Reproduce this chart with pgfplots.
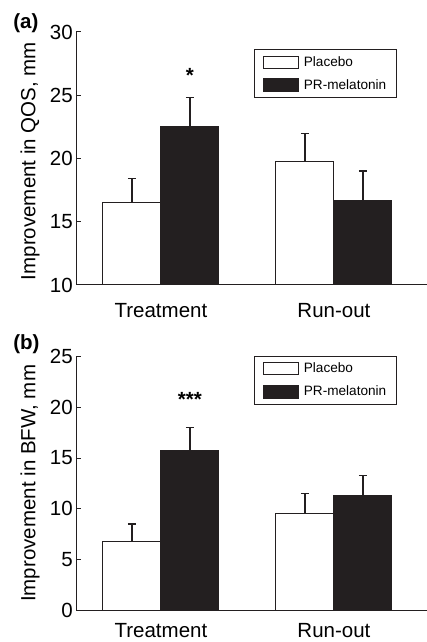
\documentclass[border=0pt]{standalone}
\usepackage{pgfplots}
\pgfplotsset{compat=1.18}
\usepackage{fontspec}
\setmainfont{Liberation Sans}
\definecolor{barblack}{RGB}{35,31,32}
\definecolor{edge}{RGB}{35,31,32}

\pgfplotsset{
  panel/.style={
    scale only axis,
    clip mode=individual,
    width=351pt,
    height=253pt,
    axis x line=bottom,
    axis y line=left,
    axis line style={-, line width=1pt, edge},
    xmin=-0.491, xmax=1.538,
    xtick={0,1},
    xticklabels={Treatment, Run-out},
    x tick style={draw=none},
    xticklabel style={font=\fontsize{20.5}{24}\selectfont, yshift=-10pt},
    y tick style={line width=1pt, edge},
    tick align=inside,
    major tick length=5pt,
    yticklabel style={font=\fontsize{20.5}{24}\selectfont, inner xsep=3pt},
    /pgf/number format/assume math mode=true,
    ylabel style={font=\fontsize{20.5}{24}\selectfont, anchor=center},
    ybar,
    bar width=0.335,
    bar shift=0pt,
    legend style={
      at={(axis description cs:0.507,0.933)}, anchor=north west,
      draw=edge, line width=0.8pt,
      font=\fontsize{13.6}{16}\selectfont,
      inner xsep=8.5pt, inner ysep=5pt, row sep=7.5pt,
      cells={anchor=west},
    },
  },
  placebo/.style={
    fill=white, draw=edge, line width=1pt,
    legend image code/.code={\draw[fill=white, draw=edge, line width=1pt] (0pt,-6pt) rectangle (35pt,6pt); \path (38pt,0pt);},
    error bars/.cd, y dir=plus, y explicit,
    error bar style={line width=1.3pt, edge},
    error mark options={rotate=90, mark size=4pt, line width=1.3pt, edge},
  },
  melatonin/.style={
    fill=barblack, draw=barblack, line width=1pt,
    legend image code/.code={\fill[barblack] (0pt,-6.5pt) rectangle (35pt,6.5pt); \path (38pt,0pt);},
    error bars/.cd, y dir=plus, y explicit,
    error bar style={line width=1.3pt, edge},
    error mark options={rotate=90, mark size=4pt, line width=1.3pt, edge},
  },
}

\begin{document}
\begin{tikzpicture}[x=1pt, y=1pt]
\path[use as bounding box] (0,0) rectangle (427,642);

% (a) QOS
\begin{axis}[panel,
    at={(76pt,357pt)}, anchor=south west,
    ymin=10, ymax=30, ytick={10,15,20,25,30},
    ylabel={Improvement in QOS, mm},
    ylabel style={at={(axis description cs:-0.131,0.49)}},
  ]
  \addplot[placebo]
    coordinates {(-0.1675,16.5) +- (0,1.9) (0.8325,19.8) +- (0,2.2)};
  \addplot[melatonin]
    coordinates {(0.1675,22.5) +- (0,2.3) (1.1675,16.65) +- (0,2.35)};
  \legend{Placebo, PR-melatonin}
  \node[anchor=base, inner sep=0pt, font=\fontsize{20.5}{24}\selectfont\bfseries] at (axis cs:0.1675,26.0) {*};
  \node[anchor=base west, inner sep=0pt, font=\fontsize{20.5}{24}\selectfont\bfseries] at (axis description cs:-0.179,1.012) {(a)};
\end{axis}

% (b) BFW
\begin{axis}[panel,
    at={(76pt,32pt)}, anchor=south west,
    height=253.3pt,
    ymin=0, ymax=25, ytick={0,5,10,15,20,25},
    xticklabel style={yshift=5pt},
    ylabel={Improvement in BFW, mm},
    ylabel style={at={(axis description cs:-0.131,0.5)}},
    legend style={at={(axis description cs:0.507,1.004)}},
  ]
  \addplot[placebo]
    coordinates {(-0.1675,6.8) +- (0,1.7) (0.8325,9.5) +- (0,2.0)};
  \addplot[melatonin]
    coordinates {(0.1675,15.7) +- (0,2.3) (1.1675,11.35) +- (0,1.9)};
  \legend{Placebo, PR-melatonin}
  \node[anchor=base, inner sep=0pt, font=\fontsize{20.5}{24}\selectfont\bfseries] at (axis cs:0.1675,20.1) {***};
  \node[anchor=base west, inner sep=0pt, font=\fontsize{20.5}{24}\selectfont\bfseries] at (axis description cs:-0.179,1.030) {(b)};
\end{axis}
\end{tikzpicture}
\end{document}
